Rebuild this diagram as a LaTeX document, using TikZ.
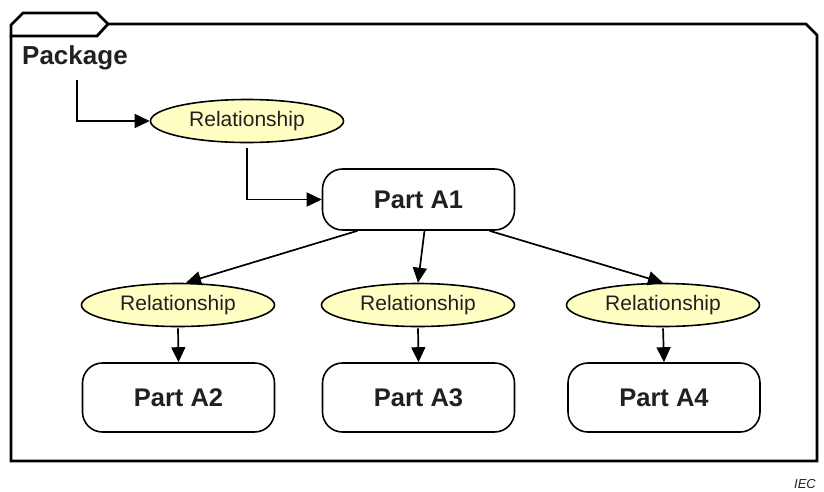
\documentclass[tikz,border=0pt]{standalone}
\usepackage{fontspec}
\setmainfont{Liberation Sans}
\usetikzlibrary{shapes.geometric,arrows.meta,calc}
\definecolor{txt}{HTML}{231F20}
\definecolor{relfill}{HTML}{FFFFC4}
\tikzset{
  frameline/.style={line width=2.8pt, line join=miter},
  relnode/.style={ellipse, draw, line width=1.6pt, fill=relfill, minimum width=193pt, minimum height=43pt, inner sep=0pt, text=txt, font=\fontsize{21}{25}\selectfont},
  partnode/.style={rectangle, rounded corners=20pt, draw, line width=1.6pt, fill=white, minimum width=192pt, inner sep=0pt, text=txt, font=\bfseries\fontsize{25.5}{30}\selectfont},
  arr/.style={line width=1.7pt, -{Triangle[length=15pt,width=14pt]}},
}
\begin{document}
\begin{tikzpicture}[x=1pt,y=1pt]
\useasboundingbox (0,0) rectangle (824,-491);
% package frame
\draw[frameline] (11,-36) -- (11,-25) -- (23,-13) -- (97,-13) -- (108,-24) -- (97,-36) -- cycle;
\draw[frameline] (108,-24) -- (806,-24) -- (817,-35) -- (817,-461) -- (11,-461) -- (11,-36);
\node[anchor=base west, text=txt, font=\bfseries\fontsize{26}{30}\selectfont, inner sep=0pt] (pkg) at (22,-64) {Package};
% nodes
\node[relnode] (r0) at (247,-121) {Relationship};
\node[partnode, minimum height=61pt] (a1) at (418.5,-199.5) {Part A1};
\node[relnode] (r1) at (178,-305) {Relationship};
\node[relnode] (r2) at (418,-305) {Relationship};
\node[relnode] (r3) at (663,-305) {Relationship};
\node[partnode, minimum height=69pt] (a2) at (178.5,-397.5) {Part A2};
\node[partnode, minimum height=69pt] (a3) at (418.5,-397.5) {Part A3};
\node[partnode, minimum height=69pt] (a4) at (664,-397.5) {Part A4};
\node[anchor=base east, inner sep=0pt, text=txt, font=\itshape\fontsize{13}{15}\selectfont] (iec) at (816,-488) {IEC};
% connectors
\coordinate (pk) at (77,-80);
\draw[arr] (pk) |- (r0.west);
\draw[arr, shorten <=5pt] (r0.south) |- (a1.west);
\draw[arr] ($(a1.south)+(-61,0)$) -- ($(r1.north)+(8,0)$);
\draw[arr] ($(a1.south)+(6,0)$) -- (r2.north);
\draw[arr] ($(a1.south)+(71,0)$) -- (r3.north);
\draw[arr, shorten <=1pt] (r1.south) -- (a2.north);
\draw[arr, shorten <=1pt] (r2.south) -- (a3.north);
\draw[arr, shorten <=1pt] (r3.south) -- (a4.north);
\end{tikzpicture}
\end{document}
